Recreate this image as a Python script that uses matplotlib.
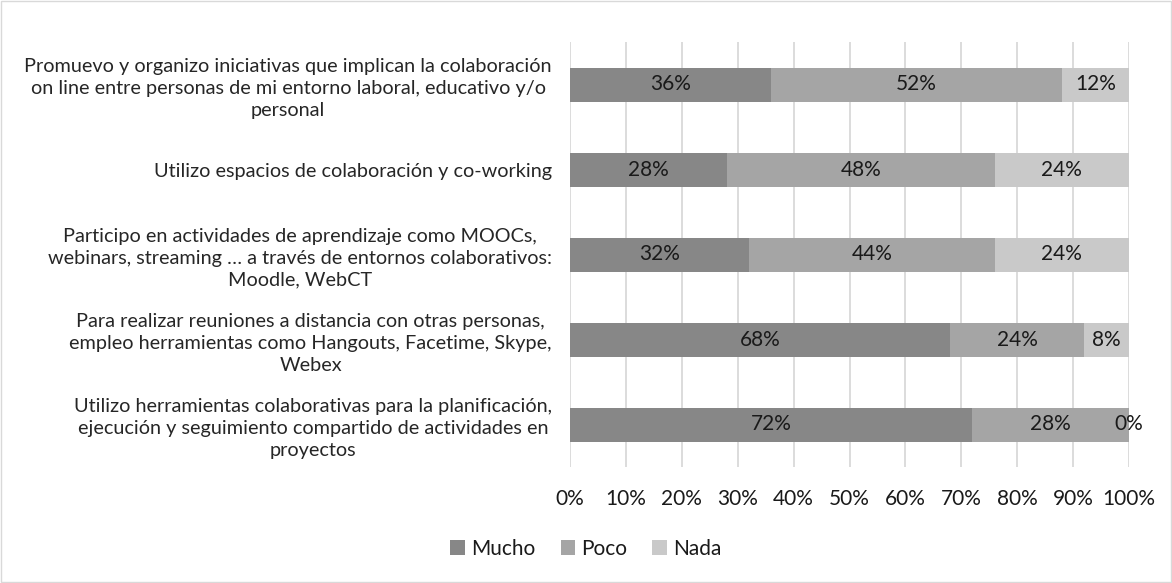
import matplotlib.pyplot as plt
from matplotlib.patches import Rectangle
import numpy as np

categories = [
    "Promuevo y organizo iniciativas que implican la colaboración\non line entre personas de mi entorno laboral, educativo y/o\npersonal",
    "Utilizo espacios de colaboración y co-working",
    "Participo en actividades de aprendizaje como MOOCs,\nwebinars, streaming … a través de entornos colaborativos:\nMoodle, WebCT",
    "Para realizar reuniones a distancia con otras personas,\nempleo herramientas como Hangouts, Facetime, Skype,\nWebex",
    "Utilizo herramientas colaborativas para la planificación,\nejecución y seguimiento compartido de actividades en\nproyectos",
]
series_names = ["Mucho", "Poco", "Nada"]
mucho = [36, 28, 32, 68, 72]
poco = [52, 48, 44, 24, 28]
nada = [12, 24, 24, 8, 0]
xticks = [0, 10, 20, 30, 40, 50, 60, 70, 80, 90, 100]
colors = ["#878787", "#a5a5a5", "#c9c9c9"]

plt.rcParams['font.family'] = ['Lato', 'DejaVu Sans']

fig = plt.figure(figsize=(11.72, 5.83), dpi=100)
fig.patches.append(Rectangle((0.001, 0.001), 0.998, 0.997, transform=fig.transFigure,
                             fill=False, edgecolor="#d9d9d9", linewidth=1))
ax = fig.add_axes([570/1172, 1-467/583, (1129-570)/1172, (467-42)/583])

y = np.arange(len(categories))
left = np.zeros(len(categories))
for name, vals, c in zip(series_names, [mucho, poco, nada], colors):
    vals = np.array(vals, dtype=float)
    ax.barh(y, vals, left=left, height=0.4, color=c, label=name, zorder=3)
    for yi, l, v in zip(y, left, vals):
        ax.text(l + v/2, yi, f"{int(v)}%", ha="center", va="center",
                fontsize=15, color="#1a1a1a", zorder=4)
    left += vals

ax.set_xlim(0, 100)
ax.set_ylim(len(categories) - 0.5, -0.5)
ax.set_yticks(y)
ax.set_yticklabels(categories, fontsize=14.3, color="#262626", ha="right",
                   multialignment="center")
for t in ax.get_yticklabels():
    t.set_linespacing(1.35)
ax.set_xticks(xticks)
ax.set_xticklabels([f"{t}%" for t in xticks], fontsize=15, color="#1a1a1a")
ax.tick_params(axis="both", length=0)
ax.tick_params(axis="y", pad=13)
ax.tick_params(axis="x", pad=16)
ax.grid(axis="x", color="#d9d9d9", linewidth=1.3, zorder=0)
for s in ax.spines.values():
    s.set_visible(False)

leg = fig.legend(loc="center", bbox_to_anchor=(0.5, 1-549/583), ncol=3, frameon=False,
                 fontsize=15, handlelength=0.7, handleheight=0.7, handletextpad=0.3,
                 columnspacing=1.2)
for t in leg.get_texts():
    t.set_color("#1a1a1a")

fig.savefig("out.png", dpi=100)
